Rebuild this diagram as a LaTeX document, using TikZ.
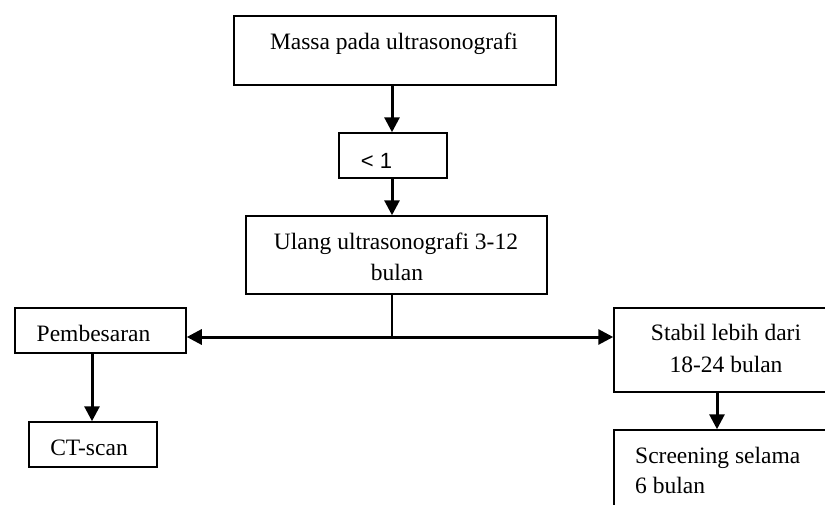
\documentclass[tikz,border=0pt]{standalone}
\usepackage{fontspec}
\setmainfont{Liberation Serif}
\newfontfamily\arialfont{Liberation Sans}
\usetikzlibrary{arrows.meta}
\begin{document}
\begin{tikzpicture}[x=1pt,y=-1pt,
  box/.style={draw, line width=1.5pt, inner sep=0pt},
  lbl/.style={anchor=base, inner sep=0pt, font=\fontsize{23.5}{28}\selectfont},
  lbll/.style={anchor=base west, inner sep=0pt, font=\fontsize{23.5}{28}\selectfont},
  conn/.style={line width=3pt, -{Triangle[length=15pt,width=15pt]}},
  thin/.style={line width=1.5pt}]
\clip (0,0) rectangle (825,504);
\fill[white] (0,0) rectangle (825,504);
% boxes
\node[box, minimum width=322pt, minimum height=69pt] (top) at (395,50.5) {};
\node[box, minimum width=108pt, minimum height=45pt] (lt) at (393,155.5) {};
\node[box, minimum width=301pt, minimum height=78pt] (ulang) at (396.5,255) {};
\node[box, minimum width=171pt, minimum height=45pt] (pem) at (100.5,330.5) {};
\node[box, minimum width=128pt, minimum height=45pt] (ct) at (93,444.5) {};
\node[box, minimum width=226pt, minimum height=84pt] (stab) at (727,350) {};
\node[box, minimum width=226pt, minimum height=90pt] (scr) at (727,475) {};
% texts
\node[lbl] (t1) at (394,49) {Massa pada ultrasonografi};
\node[anchor=base, inner sep=0pt, font=\arialfont\fontsize{22}{26}\selectfont] (t2) at (376.5,168) {< 1};
\node[lbl] (t3) at (396,249) {Ulang ultrasonografi 3-12};
\node[lbl] (t4) at (397,280) {bulan};
\node[lbl] (t5) at (93.5,341) {Pembesaran};
\node[lbl] (t6) at (89,455) {CT-scan};
\node[lbl] (t7) at (726,340) {Stabil lebih dari};
\node[lbl] (t8) at (726,372) {18-24 bulan};
\node[lbll] (t9) at (635,463) {Screening selama};
\node[lbll] (t10) at (635,493) {6 bulan};
% connectors
\coordinate (j) at (392,337);
\draw[conn] (j |- top.south) -- (j |- lt.north);
\draw[conn] (j |- lt.south) -- (j |- ulang.north);
\draw[thin] (j |- ulang.south) -- (j);
\draw[conn] (j) -- (j -| pem.east);
\draw[conn] (j) -- (j -| stab.west);
\draw[conn] (92,0 |- pem.south) -- (92,0 |- ct.north);
\draw[conn] (717,0 |- stab.south) -- (717,0 |- scr.north);
\end{tikzpicture}
\end{document}
